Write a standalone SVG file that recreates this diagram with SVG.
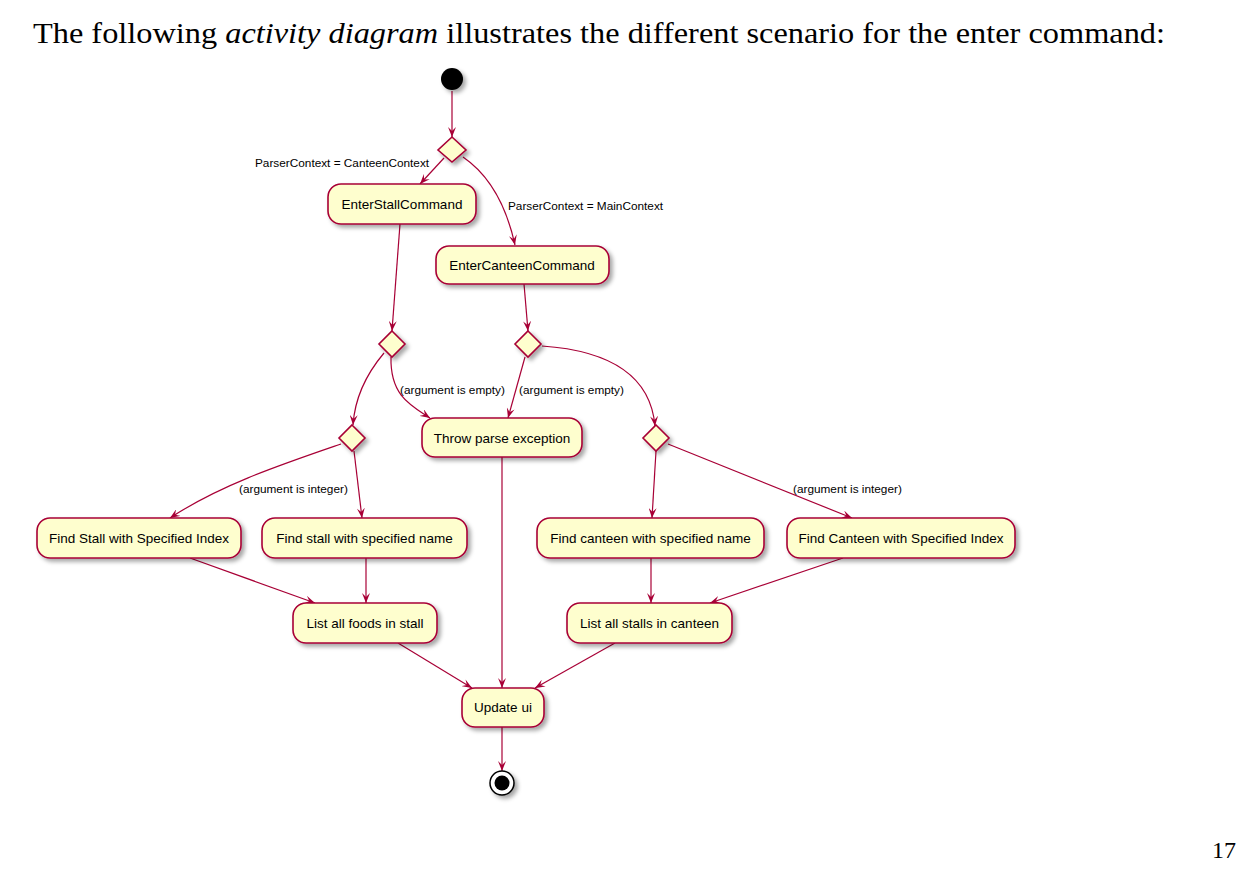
<svg xmlns="http://www.w3.org/2000/svg" width="1244" height="896" viewBox="0 0 1244 896">
<style>
.node rect{fill:#FEFECE;stroke:#A80036;stroke-width:1.6;filter:url(#sh)}
.node text{font-family:"Liberation Sans",Arial,sans-serif;font-size:13.5px;fill:#000;text-anchor:middle}
.dia{fill:#FEFECE;stroke:#A80036;stroke-width:1.6;filter:url(#sh)}
.lbl{font-family:"Liberation Sans",Arial,sans-serif;font-size:11.8px;fill:#000}
#connectors path{fill:none;stroke:#A80036;stroke-width:1.2;marker-end:url(#ah)}
</style>
<defs>
<filter id="sh" x="-20%" y="-20%" width="150%" height="160%">
<feDropShadow dx="3" dy="3" stdDeviation="2" flood-color="#000" flood-opacity="0.35"/>
</filter>
<marker id="ah" viewBox="0 0 10 8" refX="10" refY="4" markerWidth="10" markerHeight="8" markerUnits="userSpaceOnUse" orient="auto">
<path d="M0,0 L10,4 L0,8 L4,4 Z" fill="#A80036"/>
</marker>
</defs>
<rect width="1244" height="896" fill="#fff"/>
<text x="33" y="43" font-family="'Liberation Serif',Cambria,serif" font-size="29" textLength="1132" lengthAdjust="spacingAndGlyphs">The following <tspan font-style="italic">activity diagram</tspan> illustrates the different scenario for the enter command:</text>
<text x="1212" y="858" font-family="'Liberation Serif',Cambria,serif" font-size="24">17</text>

<g id="connectors">
<path d="M452,91 L452,137"/>
<path d="M444,158 L420,184"/>
<path d="M463,157 C485,172 505,200 515,245"/>
<path d="M400,224 L392,331"/>
<path d="M524,284 L528,331"/>
<path d="M384,353 C368,372 355,395 353,425"/>
<path d="M391,357 C390,395 410,405 430,418"/>
<path d="M525,357 L508,418"/>
<path d="M542,346 C600,350 650,370 655,426"/>
<path d="M341,444 C280,465 220,485 170,518"/>
<path d="M354,451 L362,518"/>
<path d="M656,451 L652,518"/>
<path d="M668,444 L852,518"/>
<path d="M190,558 L315,603"/>
<path d="M366,558 L366,603"/>
<path d="M651,558 L651,603"/>
<path d="M843,558 L710,603"/>
<path d="M398,643 L472,688"/>
<path d="M502,457 L502,688"/>
<path d="M615,643 L535,688"/>
<path d="M502,727 L502,771"/>
</g>

<text class="lbl" x="255" y="167">ParserContext = CanteenContext</text>
<text class="lbl" x="508" y="210">ParserContext = MainContext</text>
<text class="lbl" x="400" y="394">(argument is empty)</text>
<text class="lbl" x="519" y="394">(argument is empty)</text>
<text class="lbl" x="239" y="493">(argument is integer)</text>
<text class="lbl" x="793" y="493">(argument is integer)</text>

<g id="start"><circle cx="452" cy="79" r="11" fill="#000" filter="url(#sh)"/></g>
<g id="d1"><polygon class="dia" points="452,137 466,150 452,162 438,150"/></g>
<g id="d2"><polygon class="dia" points="392,331 405,344 392,357 379,344"/></g>
<g id="d3"><polygon class="dia" points="528,331 541,344 528,357 515,344"/></g>
<g id="d4"><polygon class="dia" points="352,425 365,438 352,451 339,438"/></g>
<g id="d5"><polygon class="dia" points="656,425 669,438 656,451 643,438"/></g>

<g id="enterStall" class="node"><rect x="328" y="184" width="148" height="40" rx="13"/><text x="402" y="209">EnterStallCommand</text></g>
<g id="enterCanteen" class="node"><rect x="436" y="246" width="173" height="38" rx="13"/><text x="522" y="270">EnterCanteenCommand</text></g>
<g id="throwParse" class="node"><rect x="422" y="418" width="160" height="39" rx="13"/><text x="502" y="443">Throw parse exception</text></g>
<g id="findStallIdx" class="node"><rect x="37" y="518" width="204" height="40" rx="13"/><text x="139" y="543">Find Stall with Specified Index</text></g>
<g id="findStallName" class="node"><rect x="262" y="518" width="205" height="40" rx="13"/><text x="364.5" y="543">Find stall with specified name</text></g>
<g id="findCanteenName" class="node"><rect x="537" y="518" width="227" height="40" rx="13"/><text x="650.5" y="543">Find canteen with specified name</text></g>
<g id="findCanteenIdx" class="node"><rect x="787" y="518" width="228" height="40" rx="13"/><text x="901" y="543">Find Canteen with Specified Index</text></g>
<g id="listFoods" class="node"><rect x="293" y="603" width="144" height="40" rx="13"/><text x="365" y="628">List all foods in stall</text></g>
<g id="listStalls" class="node"><rect x="567" y="603" width="165" height="40" rx="13"/><text x="649.5" y="628">List all stalls in canteen</text></g>
<g id="updateUi" class="node"><rect x="462" y="688" width="82" height="39" rx="13"/><text x="503" y="712">Update ui</text></g>
<g id="end"><circle cx="502" cy="783" r="12" fill="#fff" stroke="#000" stroke-width="1.5" filter="url(#sh)"/><circle cx="502" cy="783" r="7.5" fill="#000"/></g>
</svg>
